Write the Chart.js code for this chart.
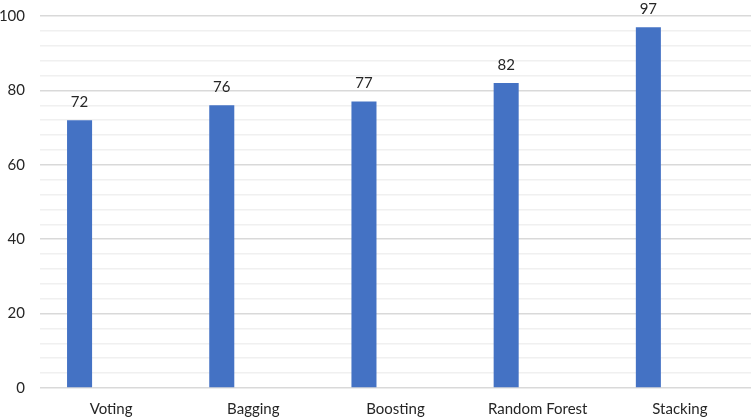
<!DOCTYPE html>
<html>
<head>
<meta charset="utf-8">
<script src="https://cdn.jsdelivr.net/npm/chart.js@4/dist/chart.umd.min.js"></script>
<style>
html,body{margin:0;padding:0;background:#fff;}
#wrap{width:751px;height:419px;}
</style>
</head>
<body>
<div id="wrap"><canvas id="c" width="751" height="419"></canvas></div>
<script>
const categories = ["Voting", "Bagging", "Boosting", "Random Forest", "Stacking"];
const accuracy = [72, 76, 77, 82, 97];
const emptySeries = [null, null, null, null, null];
const yMajorTicks = [0, 20, 40, 60, 80, 100];

const FONT = 'Lato, "Open Sans", sans-serif';

const valueLabels = {
  id: 'valueLabels',
  afterDatasetsDraw(chart) {
    const ctx = chart.ctx;
    const meta = chart.getDatasetMeta(0);
    ctx.save();
    ctx.font = '15px ' + FONT;
    ctx.fillStyle = '#262626';
    ctx.textAlign = 'center';
    ctx.textBaseline = 'middle';
    meta.data.forEach((bar, i) => {
      ctx.fillText(String(accuracy[i]), bar.x, bar.y - 18);
    });
    ctx.restore();
  }
};

new Chart(document.getElementById('c'), {
  type: 'bar',
  data: {
    labels: categories,
    datasets: [
      { data: accuracy, backgroundColor: '#4472C4', categoryPercentage: 0.887, barPercentage: 0.397 },
      { data: emptySeries, backgroundColor: '#ED7D31', categoryPercentage: 0.887, barPercentage: 0.397 }
    ]
  },
  options: {
    responsive: false,
    animation: false,
    layout: { padding: { top: 16, right: 0, left: 0, bottom: 0 } },
    plugins: { legend: { display: false }, tooltip: { enabled: false } },
    scales: {
      x: {
        grid: { display: false },
        border: { display: false },
        ticks: { color: '#262626', font: { family: FONT, size: 15 }, padding: 4 },
        afterFit: s => { s.height = 31; s.paddingLeft = 0; s.paddingRight = 0; }
      },
      y: {
        min: 0, max: 100,
        border: { display: false },
        grid: {
          drawTicks: false,
          color: c => (yMajorTicks.includes(c.tick.value) ? '#d9d9d9' : '#f0f0f0'),
          lineWidth: 1.5
        },
        ticks: {
          stepSize: 4,
          autoSkip: false,
          padding: 15,
          color: '#262626',
          font: { family: FONT, size: 15 },
          callback: v => (yMajorTicks.includes(v) ? String(v) : '')
        },
        afterFit: s => { s.width = 40; s.paddingTop = 0; s.paddingBottom = 0; }
      }
    }
  },
  plugins: [valueLabels]
});
</script>
</body>
</html>
